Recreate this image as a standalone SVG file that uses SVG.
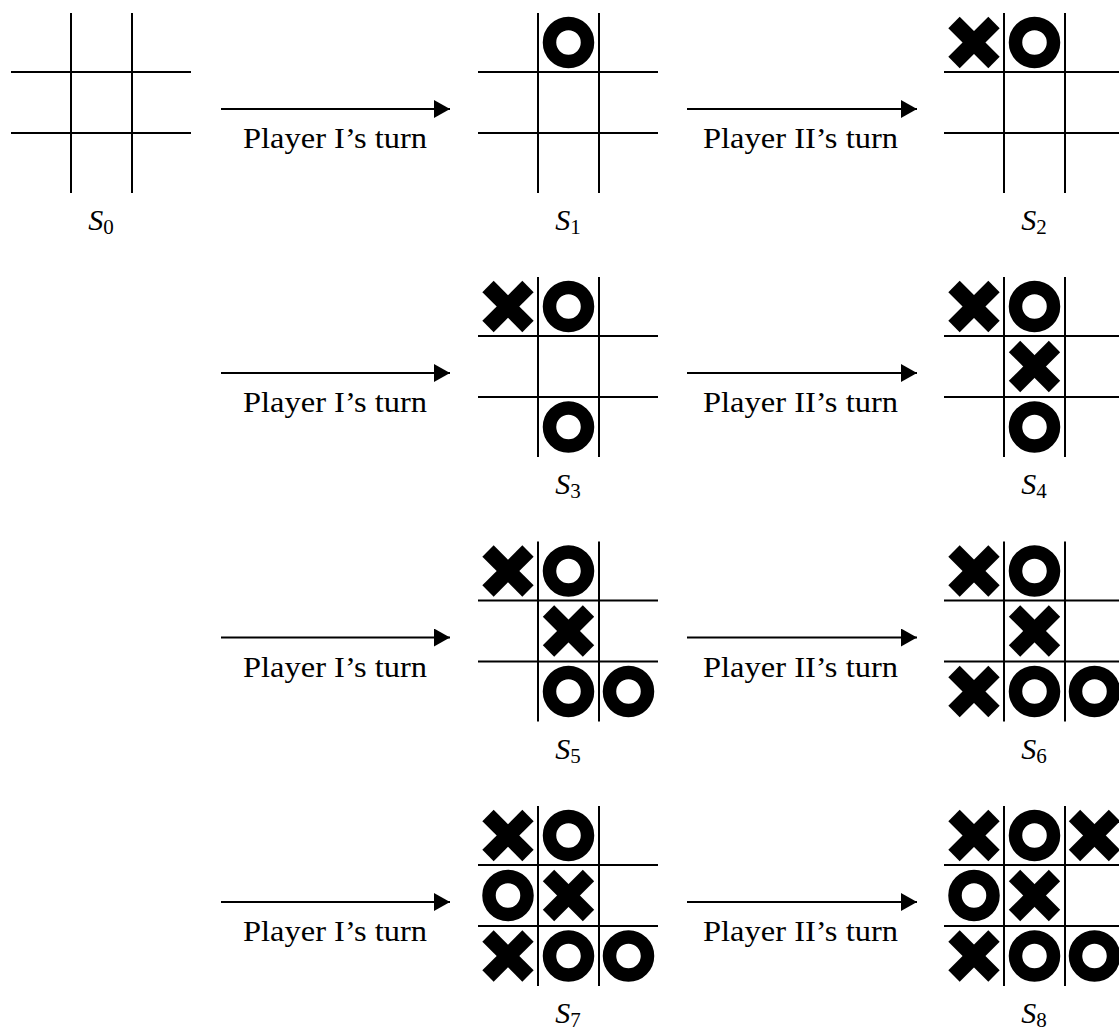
<svg xmlns="http://www.w3.org/2000/svg" xmlns:xlink="http://www.w3.org/1999/xlink" width="1119" height="1035" viewBox="0 0 1119 1035">
<style>
.g{stroke:#000;stroke-width:2;fill:none}
.xm{stroke:#000;stroke-width:16;stroke-linecap:butt;fill:none}
.om{stroke:#000;stroke-width:13.5;fill:none}
.arr{stroke:#000;stroke-width:2;fill:none}
.lab{font-family:"Liberation Serif","Times New Roman",serif;font-size:29px;fill:#000}
.st{font-family:"Liberation Serif","Times New Roman",serif;font-size:30px;fill:#000}
.sub{font-size:21px}
</style>
<defs>
<g id="grid">
<line class="g" x1="60" y1="0" x2="60" y2="180"/>
<line class="g" x1="121" y1="0" x2="121" y2="180"/>
<line class="g" x1="0" y1="59" x2="180" y2="59"/>
<line class="g" x1="0" y1="120" x2="180" y2="120"/>
</g>
<g id="X">
<line class="xm" x1="-20" y1="-20" x2="20" y2="20"/>
<line class="xm" x1="-20" y1="20" x2="20" y2="-20"/>
</g>
<circle id="O" class="om" cx="0" cy="0" r="19"/>
<marker id="ah" markerUnits="userSpaceOnUse" markerWidth="16" markerHeight="18" refX="16" refY="9" orient="auto">
<path d="M0,0 L16,9 L0,18 z" fill="#000"/>
</marker>
</defs>

<g id="S0" transform="translate(11,13)">
<use href="#grid"/>
<text class="st" x="90" y="217" text-anchor="middle"><tspan font-style="italic">S</tspan><tspan class="sub" dy="4">0</tspan></text>
</g>
<g id="S1" transform="translate(478,13)">
<use href="#grid"/>
<use href="#O" x="90.5" y="29.5"/>
<text class="st" x="90" y="217" text-anchor="middle"><tspan font-style="italic">S</tspan><tspan class="sub" dy="4">1</tspan></text>
</g>
<g id="S2" transform="translate(944,13)">
<use href="#grid"/>
<use href="#X" x="30" y="29.5"/>
<use href="#O" x="90.5" y="29.5"/>
<text class="st" x="90" y="217" text-anchor="middle"><tspan font-style="italic">S</tspan><tspan class="sub" dy="4">2</tspan></text>
</g>
<g id="S3" transform="translate(478,277)">
<use href="#grid"/>
<use href="#X" x="30" y="29.5"/>
<use href="#O" x="90.5" y="29.5"/>
<use href="#O" x="90.5" y="150"/>
<text class="st" x="90" y="217" text-anchor="middle"><tspan font-style="italic">S</tspan><tspan class="sub" dy="4">3</tspan></text>
</g>
<g id="S4" transform="translate(944,277)">
<use href="#grid"/>
<use href="#X" x="30" y="29.5"/>
<use href="#O" x="90.5" y="29.5"/>
<use href="#X" x="90.5" y="89.5"/>
<use href="#O" x="90.5" y="150"/>
<text class="st" x="90" y="217" text-anchor="middle"><tspan font-style="italic">S</tspan><tspan class="sub" dy="4">4</tspan></text>
</g>
<g id="S5" transform="translate(478,541.5)">
<use href="#grid"/>
<use href="#X" x="30" y="29.5"/>
<use href="#O" x="90.5" y="29.5"/>
<use href="#X" x="90.5" y="89.5"/>
<use href="#O" x="90.5" y="150"/>
<use href="#O" x="150.5" y="150"/>
<text class="st" x="90" y="217" text-anchor="middle"><tspan font-style="italic">S</tspan><tspan class="sub" dy="4">5</tspan></text>
</g>
<g id="S6" transform="translate(944,541.5)">
<use href="#grid"/>
<use href="#X" x="30" y="29.5"/>
<use href="#O" x="90.5" y="29.5"/>
<use href="#X" x="90.5" y="89.5"/>
<use href="#X" x="30" y="150"/>
<use href="#O" x="90.5" y="150"/>
<use href="#O" x="150.5" y="150"/>
<text class="st" x="90" y="217" text-anchor="middle"><tspan font-style="italic">S</tspan><tspan class="sub" dy="4">6</tspan></text>
</g>
<g id="S7" transform="translate(478,806)">
<use href="#grid"/>
<use href="#X" x="30" y="29.5"/>
<use href="#O" x="90.5" y="29.5"/>
<use href="#O" x="30" y="89.5"/>
<use href="#X" x="90.5" y="89.5"/>
<use href="#X" x="30" y="150"/>
<use href="#O" x="90.5" y="150"/>
<use href="#O" x="150.5" y="150"/>
<text class="st" x="90" y="217" text-anchor="middle"><tspan font-style="italic">S</tspan><tspan class="sub" dy="4">7</tspan></text>
</g>
<g id="S8" transform="translate(944,806)">
<use href="#grid"/>
<use href="#X" x="30" y="29.5"/>
<use href="#O" x="90.5" y="29.5"/>
<use href="#X" x="150.5" y="29.5"/>
<use href="#O" x="30" y="89.5"/>
<use href="#X" x="90.5" y="89.5"/>
<use href="#X" x="30" y="150"/>
<use href="#O" x="90.5" y="150"/>
<use href="#O" x="150.5" y="150"/>
<text class="st" x="90" y="217" text-anchor="middle"><tspan font-style="italic">S</tspan><tspan class="sub" dy="4">8</tspan></text>
</g>

<g id="connectors">
<line class="arr" x1="221" y1="109" x2="450" y2="109" marker-end="url(#ah)"/>
<text class="lab" x="335" y="148" text-anchor="middle" textLength="184" lengthAdjust="spacingAndGlyphs">Player I’s turn</text>
<line class="arr" x1="687" y1="109" x2="917" y2="109" marker-end="url(#ah)"/>
<text class="lab" x="800.5" y="148" text-anchor="middle" textLength="195" lengthAdjust="spacingAndGlyphs">Player II’s turn</text>

<line class="arr" x1="221" y1="373" x2="450" y2="373" marker-end="url(#ah)"/>
<text class="lab" x="335" y="412" text-anchor="middle" textLength="184" lengthAdjust="spacingAndGlyphs">Player I’s turn</text>
<line class="arr" x1="687" y1="373" x2="917" y2="373" marker-end="url(#ah)"/>
<text class="lab" x="800.5" y="412" text-anchor="middle" textLength="195" lengthAdjust="spacingAndGlyphs">Player II’s turn</text>

<line class="arr" x1="221" y1="637.5" x2="450" y2="637.5" marker-end="url(#ah)"/>
<text class="lab" x="335" y="676.5" text-anchor="middle" textLength="184" lengthAdjust="spacingAndGlyphs">Player I’s turn</text>
<line class="arr" x1="687" y1="637.5" x2="917" y2="637.5" marker-end="url(#ah)"/>
<text class="lab" x="800.5" y="676.5" text-anchor="middle" textLength="195" lengthAdjust="spacingAndGlyphs">Player II’s turn</text>

<line class="arr" x1="221" y1="902" x2="450" y2="902" marker-end="url(#ah)"/>
<text class="lab" x="335" y="941" text-anchor="middle" textLength="184" lengthAdjust="spacingAndGlyphs">Player I’s turn</text>
<line class="arr" x1="687" y1="902" x2="917" y2="902" marker-end="url(#ah)"/>
<text class="lab" x="800.5" y="941" text-anchor="middle" textLength="195" lengthAdjust="spacingAndGlyphs">Player II’s turn</text>
</g>
</svg>
